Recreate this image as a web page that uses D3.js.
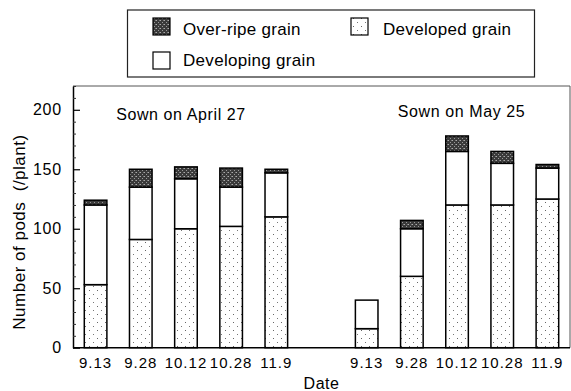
<!DOCTYPE html>
<html>
<head>
<meta charset="utf-8">
<script src="https://cdn.jsdelivr.net/npm/d3@7"></script>
<style>
html,body{margin:0;padding:0;background:#fff;}
svg{display:block;font-family:"Liberation Sans",Arial,Helvetica,sans-serif;}
</style>
</head>
<body>
<svg id="chart" width="571" height="391"></svg>
<script>
const dates = ["9.13","9.28","10.12","10.28","11.9"];
const groups = ["Sown on April 27","Sown on May 25"];
const developedApr  = [53, 91, 100, 102, 110];
const developingApr = [67, 44, 42, 33, 37];
const overripeApr   = [4, 15, 10, 16, 3];
const developedMay  = [16, 60, 120, 120, 125];
const developingMay = [24, 40, 45, 35, 26];
const overripeMay   = [0, 7, 13, 10, 3];
const yTicks = [0, 50, 100, 150, 200];
const yMax = 220;
const seriesNames = ["Over-ripe grain","Developed grain","Developing grain"];

const svg = d3.select("#chart");
const m = {left:73, right:570, top:86, bottom:347.7};

// patterns
const defs = svg.append("defs");
const dots = defs.append("pattern").attr("id","dots").attr("patternUnits","userSpaceOnUse")
  .attr("width",8).attr("height",8);
dots.append("rect").attr("width",8).attr("height",8).attr("fill","#fff");
dots.append("rect").attr("x",1).attr("y",2).attr("width",1).attr("height",1).attr("fill","#666");
dots.append("rect").attr("x",5).attr("y",6).attr("width",1).attr("height",1).attr("fill","#777");
const dark = defs.append("pattern").attr("id","dark").attr("patternUnits","userSpaceOnUse")
  .attr("width",4).attr("height",4);
dark.append("rect").attr("width",4).attr("height",4).attr("fill","#3a3a3a");
dark.append("rect").attr("x",0).attr("y",0).attr("width",1).attr("height",1).attr("fill","#aaa");
dark.append("rect").attr("x",2).attr("y",2).attr("width",1).attr("height",1).attr("fill","#999");
dark.append("rect").attr("x",3).attr("y",0).attr("width",1).attr("height",1).attr("fill","#777");

// build rows
const rows = [];
dates.forEach((d,i)=>rows.push({key:"A"+i, date:d, developed:developedApr[i], developing:developingApr[i], overripe:overripeApr[i]}));
rows.push({key:"gap", date:""});
dates.forEach((d,i)=>rows.push({key:"M"+i, date:d, developed:developedMay[i], developing:developingMay[i], overripe:overripeMay[i]}));
const barRows = rows.filter(r=>r.key!=="gap");

const x = d3.scaleBand().domain(rows.map(r=>r.key)).range([m.left, m.right])
  .paddingInner(0.5).paddingOuter(0.25);
const y = d3.scaleLinear().domain([0, yMax]).range([m.bottom, m.top]);

const stack = d3.stack().keys(["developed","developing","overripe"]);
const stacked = stack(barRows);
const fills = {developed:"url(#dots)", developing:"#fff", overripe:"url(#dark)"};

// frame top/right
svg.append("line").attr("x1",m.left).attr("x2",m.right).attr("y1",y(yMax)).attr("y2",y(yMax))
  .attr("stroke","#555").attr("stroke-width",1);
svg.append("line").attr("x1",m.right).attr("x2",m.right).attr("y1",y(yMax)).attr("y2",y(0))
  .attr("stroke","#555").attr("stroke-width",1);

stacked.forEach(layer=>{
  svg.append("g").selectAll("rect").data(layer.filter(d=>d[1]-d[0]>0)).join("rect")
    .attr("x",d=>x(d.data.key)).attr("width",x.bandwidth())
    .attr("y",d=>y(d[1])).attr("height",d=>y(d[0])-y(d[1]))
    .attr("fill",fills[layer.key]).attr("stroke","#000").attr("stroke-width",1.5);
});

// y axis
const yAxis = svg.append("g").attr("transform",`translate(${m.left},0)`)
  .call(d3.axisLeft(y).tickValues(yTicks).tickSize(-7).tickPadding(11).tickSizeOuter(0));
yAxis.select(".domain").attr("stroke","#000").attr("stroke-width",1.5);
yAxis.selectAll(".tick line").attr("stroke","#000").attr("stroke-width",1.2);
yAxis.selectAll("text").attr("font-size",16).attr("fill","#000").style("letter-spacing","0.8px");
const minor = svg.append("g").attr("transform",`translate(${m.left},0)`)
  .call(d3.axisLeft(y).tickValues(d3.range(0, yMax+1, 10).filter(v=>v%50!==0)).tickSize(-3).tickFormat(""));
minor.select(".domain").remove();
minor.selectAll(".tick line").attr("stroke","#333").attr("stroke-width",1);

// x axis
const xAxis = svg.append("g").attr("transform",`translate(0,${m.bottom})`)
  .call(d3.axisBottom(x).tickSize(0).tickPadding(10).tickSizeOuter(0)
    .tickFormat(k=>rows.find(r=>r.key===k).date));
xAxis.select(".domain").attr("stroke","#000").attr("stroke-width",1.5).attr("d",`M${m.left},0H${m.right}`);
xAxis.selectAll("text").attr("font-size",15).attr("fill","#000").style("letter-spacing","1px");

// axis titles
svg.append("text").attr("x",(m.left+m.right)/2).attr("y",389).attr("text-anchor","middle")
  .attr("font-size",16).style("letter-spacing","0.5px").text("Date");
svg.append("text").attr("transform","translate(25,232) rotate(-90)").attr("text-anchor","middle")
  .attr("font-size",17).style("letter-spacing","0.5px").attr("xml:space","preserve").text("Number of pods  (/plant)");

// group labels
svg.append("text").attr("x",181).attr("y",120).attr("text-anchor","middle")
  .attr("font-size",16).style("letter-spacing","0.6px").text(groups[0]);
svg.append("text").attr("x",461.5).attr("y",117).attr("text-anchor","middle")
  .attr("font-size",16).style("letter-spacing","0.6px").text(groups[1]);

// legend
const lg = svg.append("g");
lg.append("rect").attr("x",127.5).attr("y",10).attr("width",407).attr("height",67)
  .attr("fill","#fff").attr("stroke","#222").attr("stroke-width",1.2);
const legendItems = [
  {name:seriesNames[0], fill:"url(#dark)", sx:153, sy:18, tx:183, ty:35},
  {name:seriesNames[1], fill:"url(#dots)", sx:351, sy:18, tx:383, ty:35},
  {name:seriesNames[2], fill:"#fff", sx:153, sy:52, tx:183, ty:66}
];
legendItems.forEach(it=>{
  lg.append("rect").attr("x",it.sx).attr("y",it.sy).attr("width",17).attr("height",17)
    .attr("fill",it.fill).attr("stroke","#000").attr("stroke-width",1.2);
  lg.append("text").attr("x",it.tx).attr("y",it.ty).attr("font-size",17).style("letter-spacing","0.3px").text(it.name);
});
</script>
</body>
</html>
